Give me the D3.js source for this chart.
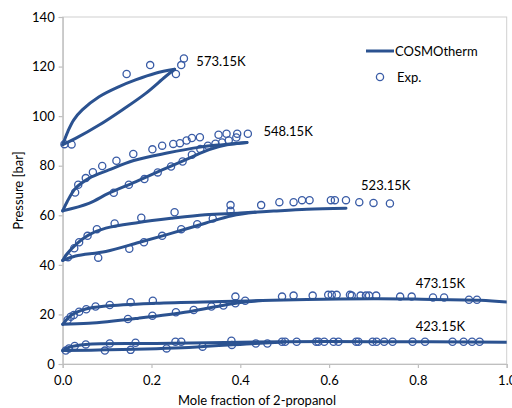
<!DOCTYPE html>
<html>
<head>
<meta charset="utf-8">
<script src="https://cdnjs.cloudflare.com/ajax/libs/d3/7.8.5/d3.min.js"></script>
<style>
  body { margin: 0; background: #fff; }
  text { font-family: Lato, "Open Sans", sans-serif; fill: #000; }
</style>
</head>
<body>
<div id="my_dataviz"></div>
<script>

// axis ticks
var xTicks = [0, 0.2, 0.4, 0.6, 0.8, 1.0];
var yTicks = [0, 20, 40, 60, 80, 100, 120, 140];

// COSMOtherm curves, [x, P] (bubble = upper branch, dew = lower branch)
var bubble573 = [[0, 88.5], [0.012, 94], [0.025, 98.5], [0.044, 102.5], [0.082, 107.8], [0.127, 111.9], [0.164, 114.6], [0.209, 117.3], [0.252, 118.9]];
var dew573 = [[0, 88.5], [0.029, 91.0], [0.082, 96.4], [0.134, 102.5], [0.187, 109.2], [0.231, 115.9], [0.252, 118.9]];

var bubble548 = [[0, 61.8], [0.01, 65.5], [0.029, 70.9], [0.059, 74.9], [0.104, 78.3], [0.16, 82.1], [0.235, 85.1], [0.31, 87.5], [0.36, 88.5], [0.415, 89.4]];
var dew548 = [[0, 61.8], [0.059, 64.8], [0.104, 68.9], [0.164, 73.5], [0.224, 78.3], [0.284, 83.0], [0.33, 86.5], [0.37, 88.4], [0.415, 89.4]];

var bubble523 = [[0, 41.8], [0.01, 44.5], [0.029, 48.1], [0.059, 52.1], [0.097, 54.8], [0.171, 57.1], [0.246, 58.8], [0.321, 60.2], [0.4, 60.9], [0.475, 61.7], [0.55, 62.4], [0.638, 62.8]];
var dew523 = [[0, 41.8], [0.029, 43.6], [0.097, 45.4], [0.171, 49.0], [0.246, 52.8], [0.321, 56.8], [0.381, 59.8], [0.434, 61.2]];

var bubble473 = [[0, 16.0], [0.02, 19.8], [0.052, 22.2], [0.097, 23.4], [0.209, 24.5], [0.359, 25.2], [0.45, 25.6], [0.55, 26.0], [0.7, 26.3], [0.79, 26.2], [0.94, 25.7], [1.0, 25.0]];
var dew473 = [[0, 16.0], [0.059, 16.4], [0.171, 18.5], [0.284, 21.1], [0.359, 23.6], [0.40, 24.8], [0.45, 25.6]];

var bubble423 = [[0, 5.4], [0.015, 6.8], [0.052, 7.9], [0.209, 8.3], [0.5, 9.0], [0.7, 9.0], [1.0, 8.8]];
var dew423 = [[0, 5.4], [0.097, 5.7], [0.284, 6.7], [0.434, 8.3], [0.5, 8.9]];

// experimental points, [x, P]
var exp573 = [[0.004, 88.7], [0.02, 88.6], [0.144, 117.0], [0.197, 120.6], [0.255, 117.0], [0.267, 120.6], [0.273, 123.3]];

var exp548 = [[0.028, 69.2], [0.035, 72.3], [0.052, 75.0], [0.068, 77.4], [0.089, 79.9], [0.121, 82.0], [0.159, 84.7], [0.202, 86.6],
  [0.224, 88.1], [0.249, 88.8], [0.264, 89.1], [0.279, 90.2], [0.291, 91.2], [0.309, 91.5], [0.351, 92.5], [0.369, 92.9],
  [0.393, 92.9], [0.417, 92.9], [0.391, 91.4], [0.374, 90.2], [0.359, 89.4], [0.344, 88.9], [0.327, 88.1],
  [0.115, 69.1], [0.149, 72.3], [0.184, 74.6], [0.214, 77.3], [0.244, 79.7], [0.27, 81.7], [0.291, 84.4], [0.31, 86.7]];

var exp523 = [[0.012, 43.1], [0.026, 46.7], [0.037, 49.1], [0.056, 51.7], [0.077, 54.4], [0.117, 56.7], [0.177, 59.0], [0.252, 61.2],
  [0.378, 64.1], [0.378, 61.8], [0.08, 42.9], [0.15, 46.5], [0.183, 49.1], [0.224, 51.7], [0.267, 54.4], [0.303, 56.4],
  [0.338, 58.7], [0.447, 64.1], [0.488, 65.3], [0.52, 65.3], [0.539, 66.1], [0.556, 66.1], [0.604, 66.1], [0.613, 66.1],
  [0.638, 66.1], [0.668, 65.3], [0.70, 65.0], [0.737, 64.8]];

var exp473 = [[0.011, 17.8], [0.018, 19.1], [0.025, 19.8], [0.037, 21.1], [0.053, 22.1], [0.074, 23.2], [0.106, 23.8], [0.153, 24.9],
  [0.203, 25.5], [0.389, 27.2], [0.411, 25.5], [0.147, 18.2], [0.202, 19.5], [0.255, 20.9], [0.295, 21.8], [0.335, 23.2],
  [0.362, 23.6], [0.389, 24.5], [0.494, 27.2], [0.52, 27.6], [0.563, 27.6], [0.598, 27.9], [0.606, 27.9], [0.617, 27.9],
  [0.647, 27.9], [0.651, 27.6], [0.671, 27.6], [0.683, 27.6], [0.69, 27.6], [0.706, 27.6], [0.76, 27.2], [0.786, 27.2],
  [0.834, 26.8], [0.859, 26.8], [0.915, 25.9], [0.933, 25.9]];

var exp423 = [[0.007, 5.4], [0.014, 6.3], [0.027, 7.3], [0.052, 7.9], [0.106, 8.3], [0.164, 8.6], [0.254, 9.0], [0.267, 9.0],
  [0.38, 9.4], [0.095, 5.4], [0.153, 5.7], [0.234, 6.3], [0.315, 7.0], [0.381, 7.7], [0.435, 8.3], [0.461, 8.3],
  [0.494, 9.0], [0.501, 9.0], [0.527, 9.0], [0.571, 9.0], [0.576, 9.0], [0.589, 9.0], [0.61, 9.0], [0.621, 9.0],
  [0.661, 9.0], [0.666, 9.0], [0.698, 9.0], [0.707, 9.0], [0.724, 9.0], [0.743, 9.0], [0.788, 9.0], [0.816, 9.0],
  [0.878, 9.0], [0.903, 9.0], [0.922, 9.0], [0.939, 9.0]];

// temperature labels and where they sit (data coords of left/middle)
var tempLabels = ["573.15K", "548.15K", "523.15K", "473.15K", "423.15K"];
var tempLabelX = [0.301, 0.452, 0.672, 0.795, 0.795];
var tempLabelP = [122.2, 93.7, 72.2, 32.6, 15.0];

var lineColor = "#2b5290";
var dotColor = "#3a5ca6";
var gridGray = "#bfbfbf";

var width = 512, height = 408;

var svg = d3.select("#my_dataviz")
    .append("svg")
    .attr("width", width)
    .attr("height", height);

var x = d3.scaleLinear().domain([0, 1]).range([62.7, 506.7]);
var y = d3.scaleLinear().domain([0, 140]).range([364, 17]);

// plot frame (top + right border)
svg.append("rect")
    .attr("x", x(0))
    .attr("y", y(140))
    .attr("width", x(1) - x(0))
    .attr("height", y(0) - y(140))
    .attr("fill", "none")
    .attr("stroke", "#d0d0d0")
    .attr("stroke-width", 1);

// X axis
var xAxis = svg.append("g")
    .attr("transform", "translate(0," + y(0) + ")")
    .call(d3.axisBottom(x).tickValues(xTicks).tickFormat(d3.format(".1f")).tickSizeOuter(0).tickSize(4));
xAxis.selectAll("text").style("font-size", "13px").attr("dy", "1.05em");

// Y axis
var yAxis = svg.append("g")
    .attr("transform", "translate(" + x(0) + ",0)")
    .call(d3.axisLeft(y).tickValues(yTicks).tickSizeOuter(0).tickSize(4));
yAxis.selectAll("text").style("font-size", "13px").attr("x", -8);

svg.selectAll(".domain, .tick line").attr("stroke", gridGray).attr("stroke-width", 1.2);

// axis labels
svg.append("text")
    .attr("x", 257)
    .attr("y", 405)
    .attr("text-anchor", "middle")
    .style("font-size", "13px")
    .text("Mole fraction of 2-propanol");

svg.append("text")
    .attr("transform", "translate(23," + ((y(0) + y(140)) / 2) + ") rotate(-90)")
    .attr("text-anchor", "middle")
    .style("font-size", "13px")
    .text("Pressure [bar]");

// clip everything to plot area
svg.append("defs").append("clipPath")
    .attr("id", "clip")
    .append("rect")
    .attr("x", x(0) - 6)
    .attr("y", y(140))
    .attr("width", x(1) - x(0) + 6)
    .attr("height", y(0) - y(140) + 6);

var plot = svg.append("g").attr("clip-path", "url(#clip)");

var line = d3.line()
    .x(function (d) { return x(d[0]); })
    .y(function (d) { return y(d[1]); })
    .curve(d3.curveCatmullRom);

var curves = [bubble573, dew573, bubble548, dew548, bubble523, dew523, bubble473, dew473, bubble423, dew423];
var points = [].concat(exp573, exp548, exp523, exp473, exp423);

plot.selectAll("circle.exp")
    .data(points)
    .enter()
    .append("circle")
    .attr("class", "exp")
    .attr("cx", function (d) { return x(d[0]); })
    .attr("cy", function (d) { return y(d[1]); })
    .attr("r", 3.6)
    .attr("fill", "none")
    .attr("stroke", dotColor)
    .attr("stroke-width", 1.3);

plot.selectAll("path.calc")
    .data(curves)
    .enter()
    .append("path")
    .attr("class", "calc")
    .attr("d", line)
    .attr("fill", "none")
    .attr("stroke", lineColor)
    .attr("stroke-width", 3)
    .attr("stroke-linecap", "round");

// temperature labels
svg.selectAll("text.temp")
    .data(tempLabels)
    .enter()
    .append("text")
    .attr("class", "temp")
    .attr("x", function (d, i) { return x(tempLabelX[i]); })
    .attr("y", function (d, i) { return y(tempLabelP[i]); })
    .attr("dy", "0.35em")
    .style("font-size", "13px")
    .text(function (d) { return d; });

// Handmade legend
svg.append("line").attr("x1", 366).attr("x2", 394).attr("y1", 51).attr("y2", 51)
    .attr("stroke", lineColor).attr("stroke-width", 3);
svg.append("text").attr("x", 395).attr("y", 51).attr("dy", "0.35em").style("font-size", "13px").text("COSMOtherm");
svg.append("circle").attr("cx", 380).attr("cy", 77).attr("r", 3.6)
    .attr("fill", "none").attr("stroke", dotColor).attr("stroke-width", 1.3);
svg.append("text").attr("x", 397).attr("y", 77).attr("dy", "0.35em").style("font-size", "13px").text("Exp.");

</script>
</body>
</html>
